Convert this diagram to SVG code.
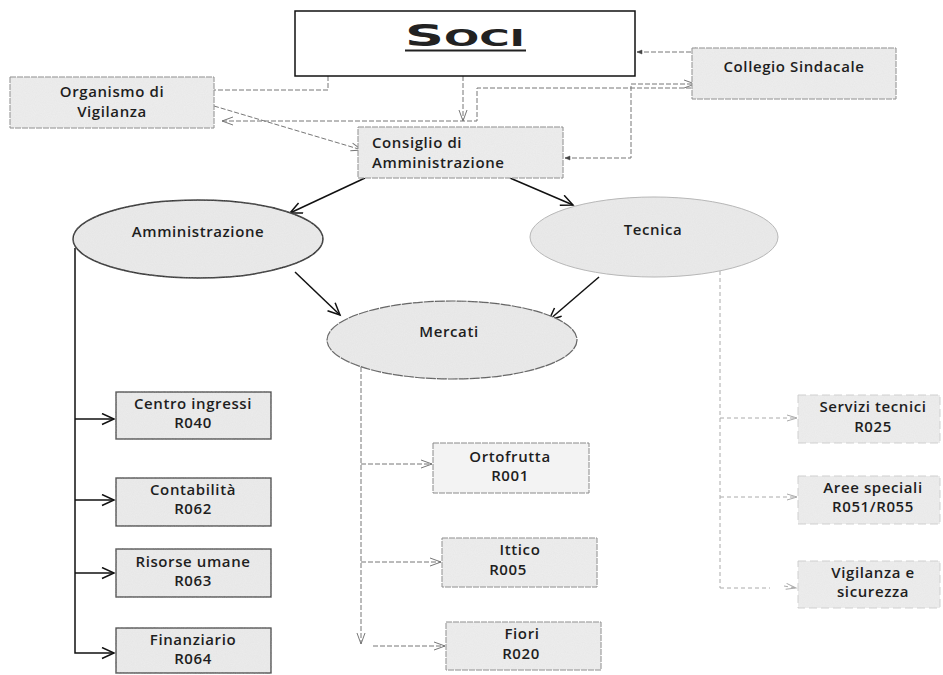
<svg xmlns="http://www.w3.org/2000/svg" width="943" height="675" viewBox="0 0 943 675">
<style>
  text { font-family: "Open Sans", "Liberation Sans", sans-serif; font-size: 15px; font-weight: 600; fill: #1e1e1e; letter-spacing: 0.6px; }
  .c { text-anchor: middle; }
  .box { fill: #eeeeee; stroke: #8a8a8a; stroke-width: 1; stroke-dasharray: 6 1; }
  .boxd { fill: #ececec; stroke: #333; stroke-width: 1.3; }
  .boxr { fill: #eeeeee; stroke: #c8c8c8; stroke-width: 0.8; stroke-dasharray: 8 4; }
  .ell { fill: #ebebeb; }
  .grain { filter: url(#grain); }
  .solid { fill: none; stroke: #111; stroke-width: 1.5; }
  .dash { fill: none; stroke: #777; stroke-width: 1; stroke-dasharray: 5 2; }
  .faint { fill: none; stroke: #aaa; stroke-width: 1; stroke-dasharray: 4 3; }
</style>
<defs>
  <filter id="grain" x="-3%" y="-3%" width="106%" height="106%">
    <feTurbulence type="fractalNoise" baseFrequency="0.9" numOctaves="2" seed="3" result="n"/>
    <feColorMatrix in="n" type="matrix" values="0 0 0 0 0.6  0 0 0 0 0.6  0 0 0 0 0.6  0 0 0 0.22 0" result="g"/>
    <feComposite in="g" in2="SourceGraphic" operator="in" result="gi"/>
    <feMerge><feMergeNode in="SourceGraphic"/><feMergeNode in="gi"/></feMerge>
  </filter>
  <marker id="ah" markerUnits="userSpaceOnUse" markerWidth="16" markerHeight="14" refX="13" refY="6" orient="auto-start-reverse">
    <path d="M1,0.5 L13,6 L1,11.5" fill="none" stroke="#111" stroke-width="1.5"/>
  </marker>
  <marker id="ag" markerUnits="userSpaceOnUse" markerWidth="14" markerHeight="12" refX="12" refY="5" orient="auto-start-reverse">
    <path d="M1,1 L12,5 L1,9" fill="none" stroke="#777" stroke-width="1"/>
  </marker>
  <marker id="af" markerUnits="userSpaceOnUse" markerWidth="14" markerHeight="12" refX="12" refY="5" orient="auto-start-reverse">
    <path d="M2,2 L12,5 L2,8" fill="none" stroke="#aaa" stroke-width="1"/>
  </marker>
  <marker id="dot" markerUnits="userSpaceOnUse" markerWidth="8" markerHeight="8" refX="1" refY="4" orient="auto">
    <path d="M6,2 L1,4 L6,6 Z" fill="#444" stroke="#444" stroke-width="0.5"/>
  </marker>
</defs>

<g id="connectors">
  <line class="dash" x1="637" y1="52" x2="706" y2="52" marker-start="url(#dot)" marker-end="url(#ag)"/>
  <polyline class="dash" points="328,76 328,90 214,90"/>
  <line class="dash" x1="463" y1="76" x2="463" y2="121" marker-end="url(#ag)"/>
  <polyline class="dash" points="222,121 477,121 477,88 733,88" marker-start="url(#ag)" marker-end="url(#ag)"/>
  <line class="dash" x1="214" y1="106" x2="362" y2="150" marker-end="url(#ag)"/>
  <polyline class="dash" points="565,158 631,158 631,84 695,84" marker-start="url(#dot)" marker-end="url(#ag)"/>
  <line class="solid" x1="365" y1="178" x2="290" y2="213" marker-end="url(#ah)"/>
  <line class="solid" x1="510" y1="178" x2="573" y2="205" marker-end="url(#ah)"/>
  <line class="solid" x1="295" y1="272" x2="340" y2="315" marker-end="url(#ah)"/>
  <line class="solid" x1="599" y1="277" x2="549" y2="320" marker-end="url(#ah)"/>
  <polyline class="solid" points="75,248 75,653 114,653" marker-end="url(#ah)"/>
  <line class="solid" x1="75" y1="419" x2="114" y2="419" marker-end="url(#ah)"/>
  <line class="solid" x1="75" y1="500" x2="114" y2="500" marker-end="url(#ah)"/>
  <line class="solid" x1="75" y1="573" x2="114" y2="573" marker-end="url(#ah)"/>
  <line class="dash" x1="361" y1="367" x2="361" y2="644" marker-end="url(#ag)"/>
  <line class="dash" x1="361" y1="464" x2="432" y2="464" marker-end="url(#ag)"/>
  <line class="dash" x1="361" y1="562" x2="441" y2="562" marker-end="url(#ag)"/>
  <line class="dash" x1="373" y1="646" x2="445" y2="646" marker-end="url(#ag)"/>
  <line class="faint" x1="720" y1="271" x2="720" y2="588"/>
  <line class="faint" x1="720" y1="418" x2="797" y2="418" marker-end="url(#af)"/>
  <line class="faint" x1="720" y1="497" x2="797" y2="497" marker-end="url(#af)"/>
  <line class="faint" x1="720" y1="588" x2="770" y2="588"/>
  <line class="faint" x1="784" y1="586" x2="796" y2="588" marker-end="url(#af)"/>
</g>

<g id="soci">
  <rect x="295" y="11" width="340" height="65" fill="#fff" stroke="#111" stroke-width="1.5"/>
  <text x="405" y="46" textLength="120" lengthAdjust="spacingAndGlyphs" style="font-family:'DejaVu Sans','Liberation Sans',sans-serif;font-weight:bold;font-size:30px;letter-spacing:0;fill:#222">S<tspan style="font-size:23px">OCI</tspan></text>
  <line x1="405" y1="50.5" x2="526" y2="50.5" stroke="#222" stroke-width="2"/>
</g>

<g id="organismo">
  <rect class="box grain" x="10" y="77" width="204" height="51"/>
  <text class="c" x="112" y="97">Organismo di</text>
  <text class="c" x="112" y="117">Vigilanza</text>
</g>

<g id="collegio">
  <rect class="box grain" x="692" y="48" width="204" height="51"/>
  <text class="c" x="794" y="72">Collegio Sindacale</text>
</g>

<g id="consiglio">
  <rect class="box grain" x="358" y="127" width="205" height="51"/>
  <text x="372" y="148">Consiglio di</text>
  <text x="372" y="168">Amministrazione</text>
</g>

<g id="amministrazione">
  <ellipse class="ell grain" cx="198" cy="239" rx="125" ry="39" stroke="#111" stroke-width="1.5"/>
  <text class="c" x="198" y="237">Amministrazione</text>
</g>

<g id="tecnica">
  <ellipse class="ell grain" cx="654" cy="237" rx="124" ry="40" stroke="#b5b5b5" stroke-width="1"/>
  <text class="c" x="653" y="235">Tecnica</text>
</g>

<g id="mercati">
  <ellipse class="ell grain" cx="452" cy="340" rx="125" ry="39" stroke="#555" stroke-width="1.2" stroke-dasharray="10 1"/>
  <text class="c" x="449" y="337">Mercati</text>
</g>

<g id="centro-ingressi">
  <rect class="boxd grain" x="116" y="392" width="155" height="47"/>
  <text class="c" x="193" y="409">Centro ingressi</text>
  <text class="c" x="193" y="428">R040</text>
</g>
<g id="contabilita">
  <rect class="boxd grain" x="116" y="478" width="155" height="48"/>
  <text class="c" x="193" y="495">Contabilità</text>
  <text class="c" x="193" y="514">R062</text>
</g>
<g id="risorse-umane">
  <rect class="boxd grain" x="116" y="549" width="155" height="48"/>
  <text class="c" x="193" y="567">Risorse umane</text>
  <text class="c" x="193" y="586">R063</text>
</g>
<g id="finanziario">
  <rect class="boxd grain" x="116" y="628" width="155" height="45"/>
  <text class="c" x="193" y="645">Finanziario</text>
  <text class="c" x="193" y="664">R064</text>
</g>

<g id="ortofrutta">
  <rect class="box" x="433" y="443" width="156" height="50" style="fill:#f3f3f3"/>
  <text class="c" x="510" y="462">Ortofrutta</text>
  <text class="c" x="510" y="481">R001</text>
</g>
<g id="ittico">
  <rect class="box grain" x="442" y="538" width="155" height="49"/>
  <text class="c" x="520" y="555">Ittico</text>
  <text class="c" x="508" y="575">R005</text>
</g>
<g id="fiori">
  <rect class="box grain" x="446" y="622" width="155" height="48"/>
  <text class="c" x="522" y="639">Fiori</text>
  <text class="c" x="521" y="659">R020</text>
</g>

<g id="servizi-tecnici">
  <rect class="boxr grain" x="798" y="395" width="142" height="48"/>
  <text class="c" x="873" y="412">Servizi tecnici</text>
  <text class="c" x="873" y="432">R025</text>
</g>
<g id="aree-speciali">
  <rect class="boxr grain" x="798" y="476" width="142" height="48"/>
  <text class="c" x="873" y="493">Aree speciali</text>
  <text class="c" x="873" y="512">R051/R055</text>
</g>
<g id="vigilanza-sicurezza">
  <rect class="boxr grain" x="798" y="561" width="142" height="47"/>
  <text class="c" x="873" y="578">Vigilanza e</text>
  <text class="c" x="873" y="597">sicurezza</text>
</g>
</svg>
